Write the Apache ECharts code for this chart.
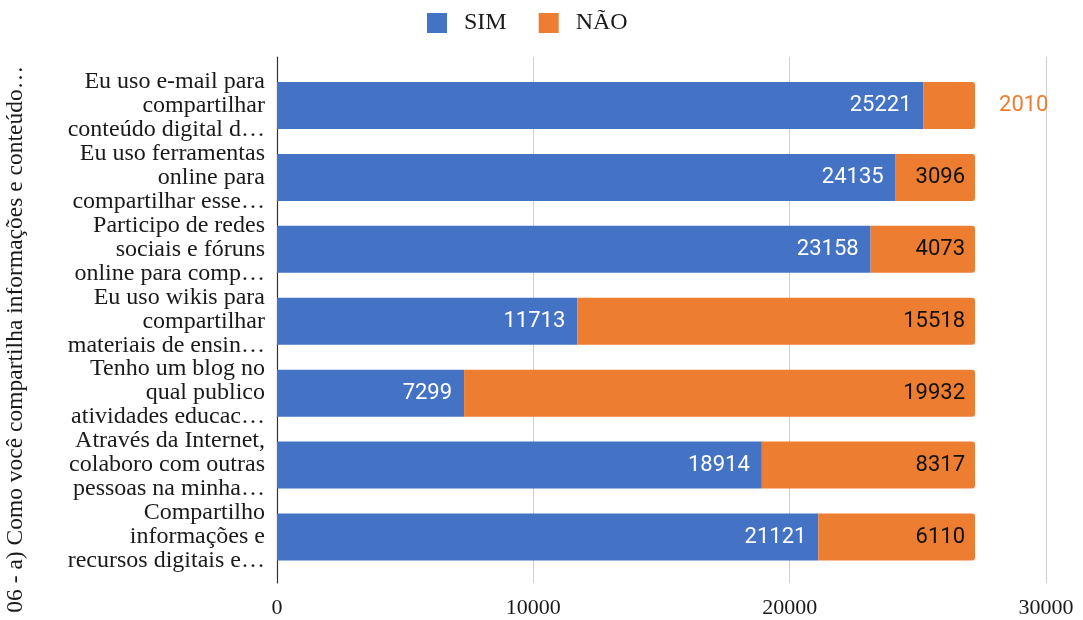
<!DOCTYPE html>
<html>
<head>
<meta charset="utf-8">
<script src="https://cdn.jsdelivr.net/npm/echarts@6/dist/echarts.min.js"></script>
<style>
  html, body { margin: 0; padding: 0; background: #fff; }
  #chart { width: 1083px; height: 620px; }
</style>
</head>
<body>
<div id="chart"></div>
<script>
// Survey answers: how teachers share digital information and content
const categories = [
  'Eu uso e-mail para\ncompartilhar\nconteúdo digital d…',
  'Eu uso ferramentas\nonline para\ncompartilhar esse…',
  'Participo de redes\nsociais e fóruns\nonline para comp…',
  'Eu uso wikis para\ncompartilhar\nmateriais de ensin…',
  'Tenho um blog no\nqual publico\natividades educac…',
  'Através da Internet,\ncolaboro com outras\npessoas na minha…',
  'Compartilho\ninformações e\nrecursos digitais e…'
];
const seriesNames = ['SIM', 'NÃO'];
const simValues = [25221, 24135, 23158, 11713, 7299, 18914, 21121];
const naoValues = [2010, 3096, 4073, 15518, 19932, 8317, 6110];
const xMin = 0, xMax = 30000, xStep = 10000;
const axisTitle = '06 - a) Como você compartilha informações e conteúdo…';

const BLUE = '#4472C4';
const ORANGE = '#ED7D31';
const SERIF = '"Liberation Serif", "DejaVu Serif", serif';
const SANS = 'Roboto, "Noto Sans", sans-serif';

const chart = echarts.init(document.getElementById('chart'));

// Narrow segments get their value printed just past the bar end
const naoData = naoValues.map(v => {
  if (v < 2500) {
    return {
      value: v,
      label: { position: 'right', distance: 24, color: ORANGE }
    };
  }
  return v;
});

chart.setOption({
  animation: false,
  legend: {
    data: seriesNames,
    left: 422,
    top: 6,
    itemWidth: 20,
    itemHeight: 20,
    itemGap: 32,
    icon: 'rect',
    itemStyle: { borderRadius: 2 },
    textStyle: { fontFamily: SERIF, fontSize: 24, color: '#1a1a1a', padding: [0, 0, 0, 12] }
  },
  grid: [
    // bars
    { left: 277, right: 37, top: 69.5, bottom: 47, outerBoundsMode: 'none' },
    // frame: gridlines, zero line and tick labels
    { left: 277, right: 37, top: 57, bottom: 37, outerBoundsMode: 'none' }
  ],
  xAxis: [
    {
      gridIndex: 0, type: 'value', min: xMin, max: xMax, interval: xStep,
      axisLine: { show: false }, axisTick: { show: false },
      axisLabel: { show: false }, splitLine: { show: false }
    },
    {
      gridIndex: 1, type: 'value', min: xMin, max: xMax, interval: xStep,
      axisLine: { show: false }, axisTick: { show: false },
      axisLabel: {
        fontFamily: SERIF, fontSize: 22, color: '#1a1a1a', margin: 14,
        formatter: v => String(v)
      },
      splitLine: { show: true, lineStyle: { color: '#d0d0d0', width: 1 } }
    }
  ],
  yAxis: [
    {
      gridIndex: 0, type: 'category', data: categories, inverse: true,
      axisLine: { show: false }, axisTick: { show: false },
      axisLabel: {
        fontFamily: SERIF, fontSize: 24, lineHeight: 24, color: '#1a1a1a',
        margin: 12, align: 'right'
      },
      name: axisTitle,
      nameLocation: 'middle',
      nameRotate: 90,
      nameGap: 249,
      nameTextStyle: {
        fontFamily: SERIF, fontSize: 23.5, color: '#1a1a1a',
        padding: [0, 36, 0, 0]
      }
    },
    {
      gridIndex: 1, type: 'value', min: 0, max: 1,
      axisLine: { show: true, onZero: false, lineStyle: { color: '#333', width: 1.2 } },
      axisTick: { show: false }, axisLabel: { show: false },
      splitLine: { show: false }
    }
  ],
  series: [
    {
      name: seriesNames[0], type: 'bar', stack: 'total',
      xAxisIndex: 0, yAxisIndex: 0,
      barWidth: 47,
      data: simValues,
      itemStyle: { color: BLUE },
      label: {
        show: true, position: 'insideRight', distance: 12,
        fontFamily: SANS, fontSize: 22, color: '#fff'
      }
    },
    {
      name: seriesNames[1], type: 'bar', stack: 'total',
      xAxisIndex: 0, yAxisIndex: 0,
      barWidth: 47,
      data: naoData,
      itemStyle: { color: ORANGE, borderRadius: [0, 3, 3, 0] },
      label: {
        show: true, position: 'insideRight', distance: 10,
        fontFamily: SANS, fontSize: 22, color: '#111'
      }
    }
  ]
});
</script>
</body>
</html>
